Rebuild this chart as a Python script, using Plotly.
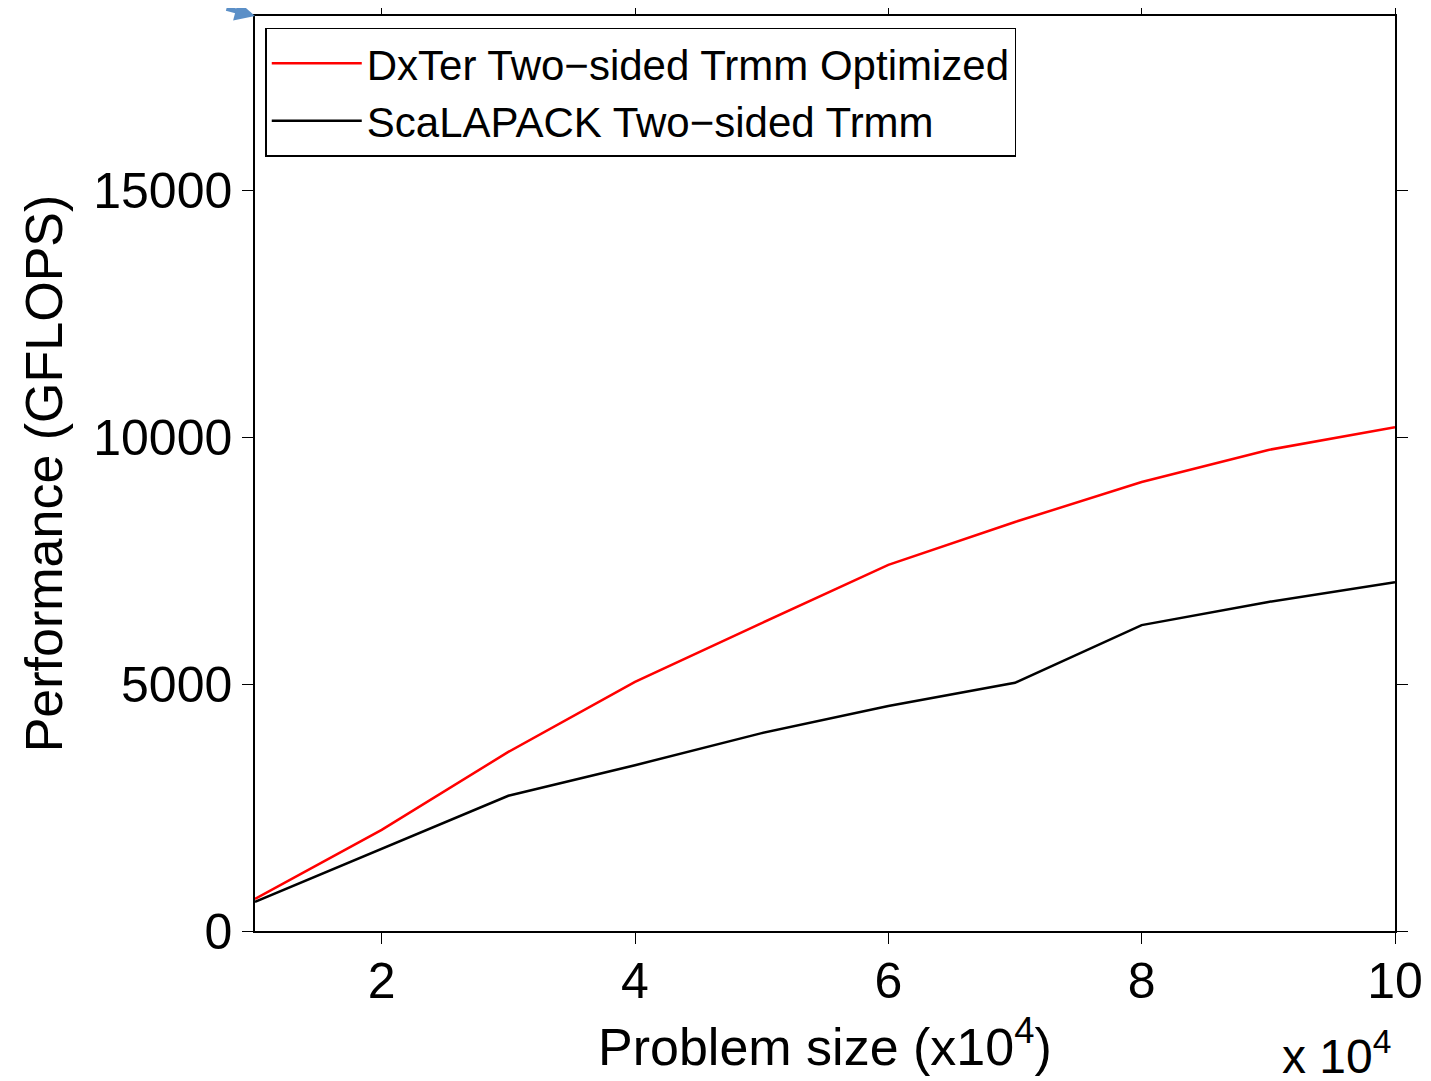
import plotly.graph_objects as go

problem_sizes = [10000, 20000, 30000, 40000, 50000, 60000, 70000, 80000, 90000, 100000]
dxter_gflops = [650, 2050, 3630, 5050, 6240, 7420, 8290, 9100, 9750, 10210]
scalapack_gflops = [590, 1660, 2740, 3360, 4010, 4560, 5030, 6200, 6670, 7070]
x_tickvals = [20000, 40000, 60000, 80000, 100000]
x_ticktext = ["2", "4", "6", "8", "10"]
y_tickvals = [0, 5000, 10000, 15000]
y_ticktext = ["0", "5000", "10000", "15000"]

FONT = "Liberation Sans, Arial, Helvetica, sans-serif"

fig = go.Figure()
fig.add_trace(go.Scatter(x=problem_sizes, y=dxter_gflops, mode="lines",
                         name="DxTer Two\u2212sided Trmm Optimized",
                         line=dict(color="#ff0000", width=2.5)))
fig.add_trace(go.Scatter(x=problem_sizes, y=scalapack_gflops, mode="lines",
                         name="ScaLAPACK Two\u2212sided Trmm",
                         line=dict(color="#000000", width=2.5)))

fig.update_layout(
    width=1431, height=1081,
    margin=dict(l=247, r=44, t=8, b=158, autoexpand=False),
    paper_bgcolor="white", plot_bgcolor="white",
    font=dict(family=FONT, color="black"),
    showlegend=True,
    legend=dict(x=0.009, y=0.987, xanchor="left", yanchor="top",
                bgcolor="white", bordercolor="black", borderwidth=1.5,
                font=dict(size=42, family=FONT), itemwidth=90,
                tracegroupgap=0),
    xaxis=dict(range=[10000, 100000], tickvals=x_tickvals, ticktext=x_ticktext,
               showline=True, linecolor="black", linewidth=1.5, mirror="ticks",
               ticks="outside", ticklen=11, tickwidth=1.2, tickcolor="black",
               showgrid=False, zeroline=False, ticklabelstandoff=-6,
               tickfont=dict(size=50, family=FONT)),
    yaxis=dict(range=[0, 18545], tickvals=y_tickvals, ticktext=y_ticktext,
               showline=True, linecolor="black", linewidth=1.5, mirror="ticks",
               ticks="outside", ticklen=11, tickwidth=1.2, tickcolor="black",
               showgrid=False, zeroline=False,
               tickfont=dict(size=50, family=FONT),
               title=dict(text="Performance (GFLOPS)",
                          font=dict(size=52, family=FONT), standoff=14)),
    annotations=[
        dict(text="Problem size (x10<sup>4</sup>)", xref="paper", yref="paper",
             x=0.5, y=-0.122, xanchor="center", yanchor="middle", showarrow=False,
             font=dict(size=52, family=FONT)),
        dict(text="x 10<sup>4</sup>", xref="paper", yref="paper", x=0.998, y=-0.133,
             xanchor="right", yanchor="middle", showarrow=False,
             font=dict(size=48, family=FONT)),
        dict(text="", xref="paper", yref="paper", x=0.0, y=1.0,
             ax=-30, ay=-24, showarrow=True, arrowhead=2, arrowsize=0.8,
             arrowwidth=5, arrowcolor="#5b8fc7"),
    ],
)

fig.write_html("out.html")
